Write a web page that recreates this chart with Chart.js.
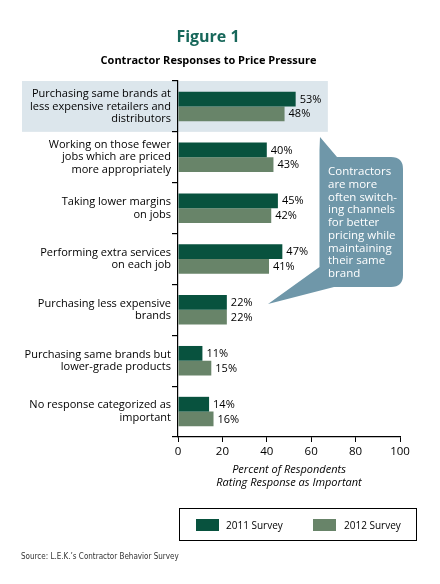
<!DOCTYPE html>
<html>
<head>
<meta charset="utf-8">
<script src="https://cdn.jsdelivr.net/npm/chart.js@4.4.1/dist/chart.umd.min.js"></script>
<style>
  html, body { margin: 0; padding: 0; background: #fff; }
  #wrap { position: relative; width: 440px; height: 584px; overflow: hidden; font-family: "Open Sans", sans-serif; }
  #c { position: absolute; left: 0; top: 0; }
  .t { position: absolute; white-space: nowrap; }
  #title { left: 0; width: 416px; top: 28px; text-align: center; font-size: 16px; line-height: 16px; font-weight: bold; color: #17675a; }
  #subtitle { left: 0; width: 417px; top: 53.5px; text-align: center; font-size: 11px; line-height: 11px; font-weight: bold; color: #000; }
  #callout { left: 328px; top: 165px; font-size: 11.5px; line-height: 12.75px; color: #fff; }
  #legend { position: absolute; left: 179px; top: 508px; width: 236px; height: 31px; border: 1.3px solid #000; }
  .sw { position: absolute; width: 23px; height: 12px; top: 519px; }
  .lt { position: absolute; top: 519px; font-size: 10px; line-height: 12px; color: #000; }
  #source { left: 21px; top: 552px; font-family: "Liberation Sans Narrow", "DejaVu Sans Condensed", sans-serif; font-size: 8px; line-height: 10px; color: #333; }
</style>
</head>
<body>
<div id="wrap">
  <canvas id="c" width="440" height="584"></canvas>
  <div class="t" id="title">Figure 1</div>
  <div class="t" id="subtitle">Contractor Responses to Price Pressure</div>
  <div class="t" id="callout">Contractors<br>are more<br>often switch-<br>ing channels<br>for better<br>pricing while<br>maintaining<br>their same<br>brand</div>
  <div id="legend"></div>
  <div class="sw" id="sw1" style="left:196px"></div>
  <div class="lt" id="lt1" style="left:226px"></div>
  <div class="sw" id="sw2" style="left:313px"></div>
  <div class="lt" id="lt2" style="left:344px"></div>
  <div class="t" id="source">Source: L.E.K.’s Contractor Behavior Survey</div>
</div>
<script>
const categories = [
  ["Purchasing same brands at", "less expensive retailers and", "distributors"],
  ["Working on those fewer", "jobs which are priced", "more appropriately"],
  ["Taking lower margins", "on jobs"],
  ["Performing extra services", "on each job"],
  ["Purchasing less expensive", "brands"],
  ["Purchasing same brands but", "lower-grade products"],
  ["No response categorized as", "important"]
];
const seriesNames = ["2011 Survey", "2012 Survey"];
const survey2011 = [53, 40, 45, 47, 22, 11, 14];
const survey2012 = [48, 43, 42, 41, 22, 15, 16];
const xTickValues = [0, 20, 40, 60, 80, 100];
const xAxisTitle = ["Percent of Respondents", "Rating Response as Important"];

const colors = ["#08523e", "#688469"];
document.getElementById('sw1').style.background = colors[0];
document.getElementById('sw2').style.background = colors[1];
document.getElementById('lt1').textContent = seriesNames[0];
document.getElementById('lt2').textContent = seriesNames[1];

const bandPlugin = {
  id: 'band',
  beforeDraw(chart) {
    const { ctx, scales } = chart;
    const y = scales.y, x = scales.x;
    const half = (y.getPixelForValue(1) - y.getPixelForValue(0)) / 2;
    const top = y.getPixelForValue(0) - half;
    const bottom = y.getPixelForValue(0) + half;
    ctx.save();
    ctx.fillStyle = '#dce6ec';
    ctx.fillRect(22, top, x.getPixelForValue(67.5) - 22, bottom - top);
    ctx.restore();
  },
  afterDraw(chart) {
    const ctx = chart.ctx;
    ctx.save();
    ctx.fillStyle = '#6f97a9';
    ctx.beginPath();
    ctx.moveTo(320, 137);
    ctx.lineTo(337, 157);
    ctx.lineTo(391, 157);
    ctx.quadraticCurveTo(403, 157, 403, 169);
    ctx.lineTo(403, 275);
    ctx.quadraticCurveTo(403, 287, 391, 287);
    ctx.lineTo(334, 287);
    ctx.lineTo(268, 304);
    ctx.lineTo(319.5, 267);
    ctx.lineTo(319.5, 150);
    ctx.closePath();
    ctx.fill();
    ctx.restore();
  },
  afterDatasetsDraw(chart) {
    const ctx = chart.ctx;
    ctx.save();
    ctx.font = '11px "Open Sans"';
    ctx.fillStyle = '#000';
    ctx.textBaseline = 'middle';
    ctx.textAlign = 'left';
    chart.data.datasets.forEach((ds, i) => {
      const meta = chart.getDatasetMeta(i);
      meta.data.forEach((bar, j) => {
        ctx.fillText(ds.data[j] + '%', bar.x + 4, bar.y + 0.5);
      });
    });
    ctx.restore();
  }
};

new Chart(document.getElementById('c'), {
  type: 'bar',
  data: {
    labels: categories,
    datasets: [
      { label: seriesNames[0], data: survey2011, backgroundColor: colors[0], barPercentage: 1, categoryPercentage: 0.58 },
      { label: seriesNames[1], data: survey2012, backgroundColor: colors[1], barPercentage: 1, categoryPercentage: 0.58 }
    ]
  },
  options: {
    indexAxis: 'y',
    responsive: false,
    animation: false,
    devicePixelRatio: 1,
    layout: { padding: { top: 81, right: 40, left: 0, bottom: 94.5 } },
    plugins: { legend: { display: false }, tooltip: { enabled: false }, title: { display: false } },
    scales: {
      x: {
        min: 0, max: 100,
        afterBuildTicks(scale) { scale.ticks = xTickValues.map(v => ({ value: v })); },
        afterFit(scale) { scale.height = 52.5; },
        grid: { drawOnChartArea: false, drawTicks: true, tickLength: 5, color: '#000', lineWidth: 1 },
        border: { display: true, color: '#000', width: 1.2 },
        ticks: { padding: 3, color: '#000', font: { family: 'Open Sans', size: 11.5 } },
        title: { display: true, text: xAxisTitle, color: '#000', padding: 0,
                 font: { family: 'Open Sans', size: 11, style: 'italic', lineHeight: 13 / 11 } }
      },
      y: {
        afterFit(scale) { scale.width = 178; },
        grid: { drawOnChartArea: false, drawTicks: true, tickLength: 6, color: '#000', lineWidth: 1.2 },
        border: { display: true, color: '#000', width: 1.2 },
        ticks: { padding: 1, color: '#000', font: { family: 'Open Sans', size: 11, lineHeight: 12.5 / 11 } }
      }
    }
  },
  plugins: [bandPlugin]
});
</script>
</body>
</html>
